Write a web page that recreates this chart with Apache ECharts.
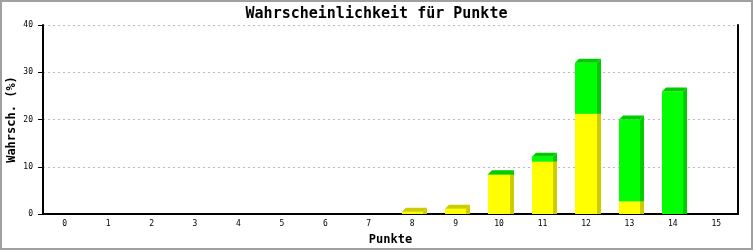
<!DOCTYPE html>
<html><head><meta charset="utf-8">
<script src="https://cdn.jsdelivr.net/npm/echarts@6/dist/echarts.min.js"></script>
<style>html,body{margin:0;padding:0;background:#fff}#c{width:753px;height:250px}</style>
</head><body><div id="c"></div>
<script>
var categories = ['0','1','2','3','4','5','6','7','8','9','10','11','12','13','14','15'];
var yellowValues = [0,0,0,0,0,0,0,0,0.45,1.1,8.3,11.1,21.2,2.7,0,0];
var greenValues  = [0,0,0,0,0,0,0,0,0,0,0.1,1.0,10.8,17.3,25.9,0];
var yTicks = [0,10,20,30,40];

var colors = [
  {front:'#ffff00', dark:'#cccc00'},
  {front:'#00ff00', dark:'#00cc00'}
];

function buildData(vals, below){
  var out = [];
  for (var i=0;i<vals.length;i++){
    var base = below ? below[i] : 0;
    out.push([i, base, base + vals[i], vals[i]]);
  }
  return out;
}
var yellowData = buildData(yellowValues, null);
var greenData = buildData(greenValues, yellowValues);

function makeRender(ci){
  return function(params, api){
    var v = api.value(3);
    if (!v) return null;
    var i = api.value(0);
    var pB = api.coord([i, api.value(1)]);
    var pT = api.coord([i, api.value(2)]);
    var bw = api.size([1,0])[0] * 0.49;
    var x0 = Math.round(pB[0] - bw/2), x1 = Math.round(pB[0] + bw/2);
    var yB = pB[1], yT = pT[1];
    var d = 4;
    var c = colors[ci];
    return {type:'group', children:[
      {type:'rect', shape:{x:x0, y:yT, width:x1-x0, height:yB-yT}, style:{fill:c.front}},
      {type:'polygon', shape:{points:[[x1,yT],[x1+d,yT-d],[x1+d,yB],[x1,yB]]}, style:{fill:c.dark}},
      {type:'polygon', shape:{points:[[x0,yT],[x0+d,yT-d],[x1+d,yT-d],[x1,yT]]}, style:{fill:c.dark}}
    ]};
  };
}

var chart = echarts.init(document.getElementById('c'), null, {renderer:'canvas'});
chart.setOption({
  animation:false,
  backgroundColor:'#fff',
  title:{text:'Wahrscheinlichkeit für Punkte', left:'center', top:2,
    textStyle:{fontFamily:'DejaVu Sans Mono', fontWeight:'bold', fontSize:15, color:'#000'}},
  grid:{left:43, right:15, top:25, bottom:36, containLabel:false, outerBoundsMode:'none'},
  xAxis:{type:'category', data:categories, boundaryGap:true,
    name:'Punkte', nameLocation:'middle', nameGap:20, nameMoveOverlap:false,
    nameTextStyle:{fontFamily:'DejaVu Sans Mono', fontWeight:'bold', fontSize:12, color:'#000'},
    axisLine:{lineStyle:{color:'#000', width:2}},
    axisTick:{show:false},
    axisLabel:{fontFamily:'DejaVu Sans Mono', fontSize:8, color:'#000', margin:6, interval:0},
    splitLine:{show:false}},
  yAxis:[{type:'value', min:0, max:40, interval:10,
    name:'Wahrsch. (%)', nameLocation:'middle', nameGap:25, nameRotate:90, nameMoveOverlap:false,
    nameTextStyle:{fontFamily:'DejaVu Sans Mono', fontWeight:'bold', fontSize:12, color:'#000'},
    axisLine:{show:true, lineStyle:{color:'#000', width:2}},
    axisTick:{show:true, length:5, lineStyle:{color:'#000', width:1}},
    axisLabel:{fontFamily:'DejaVu Sans Mono', fontSize:8, color:'#000', margin:10},
    splitLine:{show:true, lineStyle:{color:'#bbbbbb', type:[2,3], width:1}}},
   {type:'value', min:0, max:40, interval:10, position:'right',
    axisLine:{show:true, lineStyle:{color:'#000', width:2}},
    axisTick:{show:false}, axisLabel:{show:false}, splitLine:{show:false}}],
  graphic:[{type:'rect', shape:{x:1, y:1, width:751, height:248},
    style:{fill:null, stroke:'#a0a0a0', lineWidth:2}, z:100}],
  series:[
    {type:'custom', name:'gelb', renderItem:makeRender(0), data:yellowData,
      encode:{x:0, y:[1,2]}, z:2},
    {type:'custom', name:'gruen', renderItem:makeRender(1), data:greenData,
      encode:{x:0, y:[1,2]}, z:3}
  ]
});
</script></body></html>
